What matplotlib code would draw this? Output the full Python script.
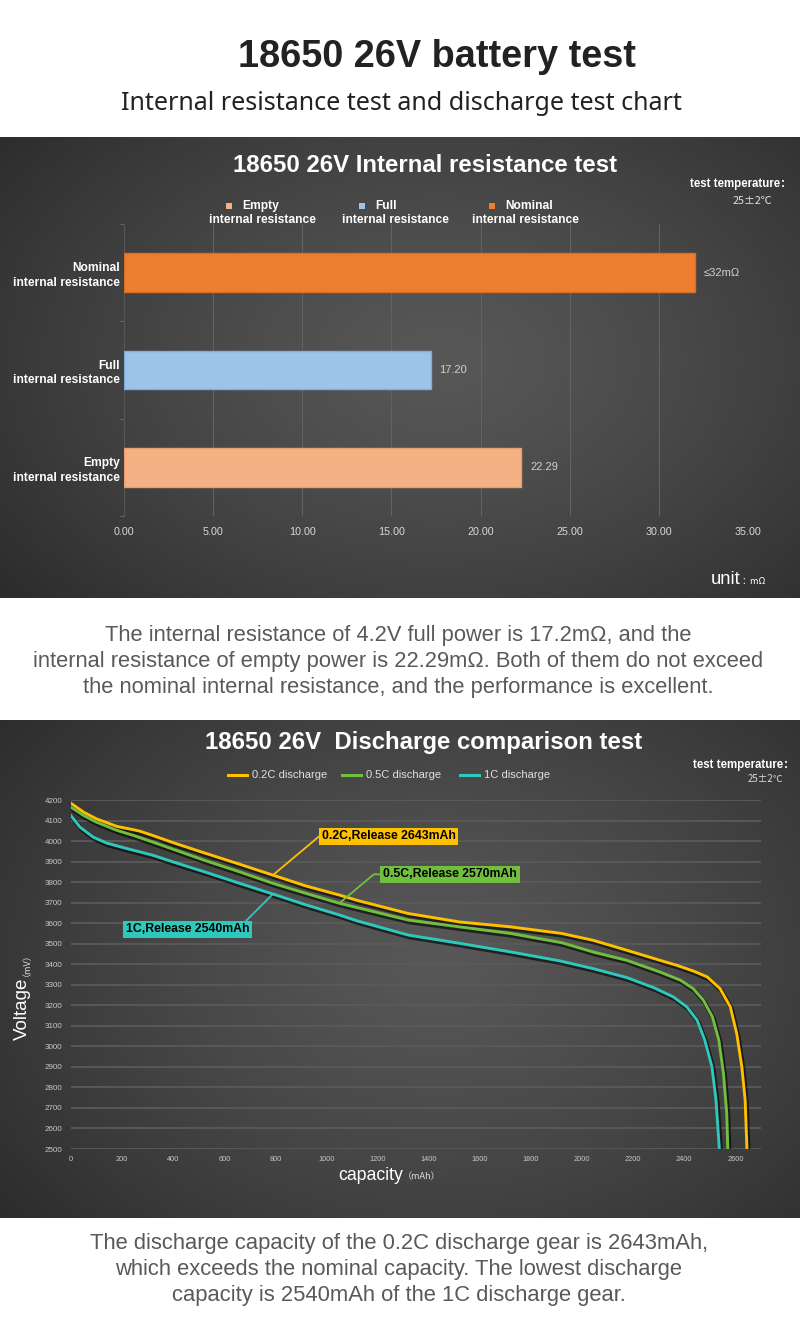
import numpy as np
import matplotlib
matplotlib.use("Agg")
import matplotlib.pyplot as plt
from matplotlib import font_manager
import matplotlib.patheffects as pe

# ---------------- data ----------------
bar_categories = ["Empty\ninternal resistance", "Full\ninternal resistance", "Nominal\ninternal resistance"]
bar_values = [22.29, 17.20, 32.0]
bar_value_labels = ["22.29", "17.20", "≤32mΩ"]
bar_colors = ["#F4B183", "#9DC3E6", "#ED7D31"]
bar_edge = ["#E8A06E", "#7FAEDC", "#D96E25"]
legend_labels = ["Empty\ninternal resistance", "Full\ninternal resistance", "Nominal\ninternal resistance"]
bar_xticks = [0, 5, 10, 15, 20, 25, 30, 35]

cap_02 = [0, 50, 100, 180, 245, 270, 320, 400, 530, 660, 790, 920, 1050, 1120, 1320, 1520,
          1720, 1920, 2045, 2175, 2305, 2370, 2435, 2490, 2540, 2580, 2605, 2625, 2638, 2645]
v_02 = [4184, 4140, 4108, 4071, 4055, 4048, 4027, 3992, 3939, 3887, 3834, 3781, 3737, 3711, 3647, 3606,
        3582, 3550, 3516, 3468, 3419, 3395, 3367, 3338, 3281, 3192, 3062, 2900, 2738, 2500]
cap_05 = [0, 50, 100, 180, 245, 320, 400, 530, 660, 790, 920, 1050, 1320, 1520, 1720, 1920,
          2045, 2175, 2305, 2385, 2435, 2475, 2510, 2535, 2553, 2566, 2570]
v_05 = [4165, 4124, 4092, 4052, 4027, 3995, 3960, 3903, 3850, 3794, 3745, 3697, 3615, 3582, 3550, 3505,
        3459, 3419, 3362, 3322, 3281, 3224, 3143, 3030, 2868, 2673, 2500]
cap_1 = [0, 35, 87, 140, 220, 320, 400, 530, 660, 790, 920, 1050, 1120, 1320, 1520, 1720, 1914,
         2045, 2175, 2280, 2357, 2410, 2450, 2480, 2508, 2524, 2537]
v_1 = [4124, 4068, 4019, 3990, 3963, 3931, 3898, 3847, 3794, 3742, 3689, 3640, 3611, 3542, 3502, 3460, 3416,
       3378, 3335, 3286, 3241, 3192, 3127, 3030, 2900, 2738, 2500]
series_names = ["0.2C discharge", "0.5C discharge", "1C discharge"]
series_colors = ["#FFC000", "#70BF3F", "#2EC8BD"]
release_labels = ["0.2C,Release 2643mAh", "0.5C,Release 2570mAh", "1C,Release 2540mAh"]
volt_ticks = list(range(2500, 4201, 100))
cap_ticks = list(range(0, 2601, 200))

# ---------------- fonts ----------------
def has_font(name):
    try:
        font_manager.findfont(font_manager.FontProperties(family=name), fallback_to_default=False)
        return True
    except Exception:
        return False

NARROW = "Liberation Sans Narrow" if has_font("Liberation Sans Narrow") else None
SANS = ["Liberation Sans", "DejaVu Sans"]
NAR = [NARROW, "Liberation Sans", "DejaVu Sans"] if NARROW else SANS
CJK = ["Noto Sans CJK SC", "DejaVu Sans"]
plt.rcParams["font.family"] = SANS

W, H = 800, 1327
fig = plt.figure(figsize=(W / 100, H / 100), dpi=100)
fig.patch.set_facecolor("white")
_renderer = fig.canvas.get_renderer()


def fit(s, target_px, family, weight="normal", base=10.0):
    """font size so that string s is target_px wide"""
    t = fig.text(0, 0, s, fontsize=base, family=family, fontweight=weight)
    w = t.get_window_extent(_renderer).width
    t.remove()
    return base * target_px / w


def rect(x0, y0, x1, y1):
    return [x0 / W, 1 - y1 / H, (x1 - x0) / W, (y1 - y0) / H]


def fx(x):
    return x / W


def fy(y):
    return 1 - y / H


# ---------------- backgrounds ----------------
bg = fig.add_axes([0, 0, 1, 1])
bg.axis("off")


def panel(y0, y1, cx, cy, rx, ry):
    xs = np.linspace(0, W, 200)
    ys = np.linspace(y0, y1, 150)
    X, Y = np.meshgrid(xs, ys)
    r = np.sqrt(((X - cx) / rx) ** 2 + ((Y - cy) / ry) ** 2)
    t = np.clip(r, 0, 1) ** 1.3
    c0 = np.array([0x57, 0x57, 0x57]) / 255
    c1 = np.array([0x2c, 0x2c, 0x2c]) / 255
    img = c0[None, None, :] * (1 - t[..., None]) + c1[None, None, :] * t[..., None]
    bg.imshow(img, extent=[0, W, y1, y0], aspect="auto", zorder=0, interpolation="bilinear")


panel(137, 598, 440, 360, 560, 380)
panel(720, 1218, 440, 960, 560, 420)
bg.set_xlim(0, W)
bg.set_ylim(H, 0)

# ---------------- header texts ----------------
s = "18650 26V battery test"
fig.text(fx(437), fy(57), s, ha="center", va="center",
         fontsize=fit(s, 398, NAR, "bold"), fontweight="bold", color="#222222", family=NAR)
s = "Internal resistance test and discharge test chart"
fig.text(fx(401), fy(104), s, ha="center", va="center",
         fontsize=fit(s, 562, ["Noto Sans", "DejaVu Sans"]), color="#222222", family=["Noto Sans", "DejaVu Sans"])

# ---------------- bar chart ----------------
lab_fs = fit("internal resistance", 106, NAR, "bold")
ax1 = fig.add_axes(rect(124, 224, 748, 516))
ax1.set_facecolor("none")
ypos = np.arange(len(bar_categories))
ax1.barh(ypos, bar_values, height=0.4, color=bar_colors, edgecolor=bar_edge, linewidth=1, zorder=3)
ax1.set_xlim(0, 35)
ax1.set_ylim(-0.5, len(bar_categories) - 0.5)
ax1.set_xticks(bar_xticks)
ax1.set_xticklabels([f"{v:.2f}" for v in bar_xticks], color="#d8d8d8",
                    fontsize=fit("35.00", 27, NAR), family=NAR)
ax1.set_yticks(ypos)
ax1.set_yticklabels(bar_categories, color="white", fontsize=lab_fs,
                    fontweight="bold", family=NAR, linespacing=1.3)
ax1.tick_params(axis="x", length=0, pad=8)
ax1.tick_params(axis="y", length=0, pad=3)
ax1.set_yticks(np.arange(-0.5, len(bar_categories), 1), minor=True)
ax1.tick_params(axis="y", which="minor", length=3, color="#707070", direction="out")
ax1.grid(axis="x", color="#626262", linewidth=0.8, zorder=0)
for sp in ax1.spines.values():
    sp.set_visible(False)
ax1.spines["left"].set_visible(True)
ax1.spines["left"].set_color("#555555")
val_fs = fit("22.29", 28, NAR)
for yv, val, lab in zip(ypos, bar_values, bar_value_labels):
    ax1.text(val + 0.5, yv, lab, va="center", ha="left", color="#d0d0d0", fontsize=val_fs, family=NAR)

s = "18650 26V Internal resistance test"
fig.text(fx(425), fy(165), s, ha="center", va="center",
         fontsize=fit(s, 385, NAR, "bold"), fontweight="bold", color="white", family=NAR)
s = "test temperature："
tt_fam = NAR + ["Noto Sans CJK SC"]
fig.text(fx(741), fy(184), s, ha="center", va="center",
         fontsize=fit(s, 102, tt_fam, "bold"), fontweight="bold", color="white", family=tt_fam)
s = "25±2℃"
fig.text(fx(752), fy(201), s, ha="center", va="center", fontsize=fit(s, 40, CJK), color="#e0e0e0", family=CJK)

leg_x = [229, 362, 492]
for lx, lab, col in zip(leg_x, legend_labels, bar_colors):
    first, second = lab.split("\n")
    fig.patches.append(plt.Rectangle((fx(lx - 3), fy(209)), 6 / W, 6 / H, transform=fig.transFigure,
                                     facecolor=col, edgecolor="none"))
    fig.text(fx(lx + 13), fy(206), first, ha="left", va="center", color="white",
             fontsize=lab_fs, fontweight="bold", family=NAR)
    fig.text(fx(lx + 33), fy(220), second, ha="center", va="center", color="white",
             fontsize=lab_fs, fontweight="bold", family=NAR)

fig.text(fx(740), fy(580), "unit", ha="right", va="center", fontsize=fit("unit", 30, NAR), color="white",
         family=NAR)
fig.text(fx(741), fy(581), "：mΩ", ha="left", va="center", fontsize=6.5, color="white", family=CJK)

# ---------------- paragraph 1 ----------------
para1 = ["The internal resistance of 4.2V full power is 17.2mΩ, and the",
         "internal resistance of empty power is 22.29mΩ. Both of them do not exceed",
         "the nominal internal resistance, and the performance is excellent."]
p_fs = fit(para1[1], 734, SANS)
for i, line in enumerate(para1):
    fig.text(fx(398), fy(636 + 26 * i), line, ha="center", va="center", fontsize=p_fs, color="#595959",
             family=SANS)

# ---------------- discharge chart ----------------
ax2 = fig.add_axes(rect(71, 800, 761, 1149))
ax2.set_facecolor("none")
ax2.set_xlim(0, 2700)
ax2.set_ylim(2500, 4200)
caps = [cap_02, cap_05, cap_1]
volts = [v_02, v_05, v_1]
for c, v, col in zip(caps, volts, series_colors):
    ax2.plot(c, v, color=col, linewidth=2.1, zorder=4, solid_joinstyle="round",
             path_effects=[pe.SimpleLineShadow(offset=(1, -1.5), shadow_color="black", alpha=0.6, linewidth=3.2),
                           pe.Normal()])
ax2.set_yticks(volt_ticks)
ax2.set_yticklabels([str(v) for v in volt_ticks], fontsize=5.8, color="#c8c8c8")
ax2.set_xticks(cap_ticks)
ax2.set_xticklabels([str(v) for v in cap_ticks], fontsize=5.3, color="#c8c8c8")
ax2.tick_params(length=0, pad=6)
ax2.tick_params(axis="x", pad=5)
ax2.grid(axis="y", color="#5a5a5a", linewidth=1.3, zorder=0)
for sp in ax2.spines.values():
    sp.set_visible(False)

ann_fs = fit(release_labels[0], 134, NAR, "bold")
ann = [
    (0, 10, (1243, 4023), 40),
    (1, 11, (1483, 3838), 40),
    (2, 9, (455, 3570), 45),
]
for si, idx, txy, angB in ann:
    ax2.annotate(release_labels[si], xy=(caps[si][idx], volts[si][idx]), xytext=txy, textcoords="data",
                 ha="center", va="center", fontsize=ann_fs, fontweight="bold", color="black", family=NAR,
                 bbox=dict(boxstyle="square,pad=0.22", facecolor=series_colors[si], edgecolor="none"),
                 arrowprops=dict(arrowstyle="-", color=series_colors[si], linewidth=1.3, shrinkA=0, shrinkB=0,
                                 connectionstyle=f"angle,angleA=0,angleB={angB},rad=0"),
                 zorder=6)

s = "18650 26V  Discharge comparison test"
fig.text(fx(424), fy(742), s, ha="center", va="center",
         fontsize=fit(s, 438, NAR, "bold"), fontweight="bold", color="white", family=NAR)
s = "test temperature："
fig.text(fx(744), fy(765), s, ha="center", va="center",
         fontsize=fit(s, 102, tt_fam, "bold"), fontweight="bold", color="white", family=tt_fam)
s = "25±2℃"
fig.text(fx(765), fy(779), s, ha="center", va="center", fontsize=fit(s, 36, CJK), color="#d8d8d8", family=CJK)

lg_fs = fit(series_names[0], 75, NAR)
lg_x = [228, 342, 460]
for lx, name, col in zip(lg_x, series_names, series_colors):
    bg.plot([lx, lx + 19], [775, 775], color=col, linewidth=2.2, zorder=5)
    bg.text(lx + 24, 775, name, ha="left", va="center", color="#e0e0e0", fontsize=lg_fs, family=NAR, zorder=5)

bg.text(22, 1040, "Voltage", rotation=90, ha="center", va="bottom", fontsize=13.5, color="white",
        family=SANS, zorder=5)
bg.text(22, 976, "（mV）", rotation=90, ha="center", va="bottom", fontsize=6.5, color="#e0e0e0",
        family=CJK, zorder=5)
bg.text(403, 1176, "capacity", ha="right", va="center", fontsize=fit("capacity", 65, SANS), color="white",
        family=SANS, zorder=5)
bg.text(403, 1177, "（mAh）", ha="left", va="center", fontsize=6.5, color="#e0e0e0", family=CJK, zorder=5)

# ---------------- paragraph 2 ----------------
para2 = ["The discharge capacity of the 0.2C discharge gear is 2643mAh,",
         "which exceeds the nominal capacity. The lowest discharge",
         "capacity is 2540mAh of the 1C discharge gear."]
p2_fs = fit(para2[0], 623, SANS)
for i, line in enumerate(para2):
    fig.text(fx(399), fy(1244 + 26 * i), line, ha="center", va="center", fontsize=p2_fs, color="#595959",
             family=SANS)

fig.savefig("out.png", dpi=100, facecolor="white")
